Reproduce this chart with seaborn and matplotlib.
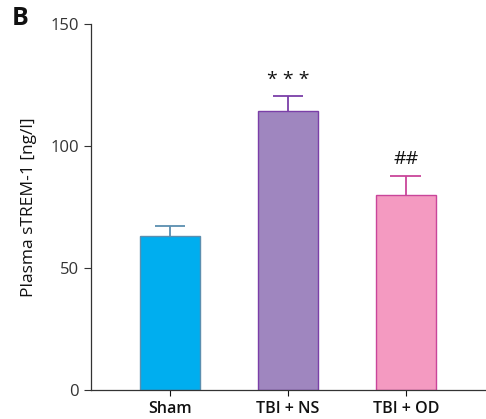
import pandas as pd
import matplotlib
matplotlib.use('Agg')
import matplotlib.pyplot as plt
import seaborn as sns

# 数据
groups = ['Sham', 'TBI + NS', 'TBI + OD']
means = [63.2, 114.3, 79.8]
errs = [4.0, 6.2, 8.0]
marks = ['', '* * *', '##']
fills = ['#00aeef', '#9f86bf', '#f49ac1']
edges = ['#5b8fb0', '#7b3fa8', '#c9459a']

sns.set_style('ticks')
plt.rcParams['font.family'] = ['Open Sans', 'DejaVu Sans']

df = pd.DataFrame({'group': groups, 'value': means})

fig = plt.figure(figsize=(4.86, 4.19), dpi=100)
ax = fig.add_axes([0.187, 0.069, 0.813, 0.874])

sns.barplot(data=df, x='group', y='value', hue='group', palette=fills,
            saturation=1, width=0.51, legend=False, ax=ax, errorbar=None)
for patch, ec in zip(ax.patches, edges):
    patch.set_edgecolor(ec)
    patch.set_linewidth(1.0)

# 只画向上的误差线
for i, (m, e, ec, t) in enumerate(zip(means, errs, edges, marks)):
    ax.vlines(i, m, m + e, color=ec, lw=1.3, zorder=1)
    ax.hlines(m + e, i - 0.13, i + 0.13, color=ec, lw=1.3, zorder=1)
    if t:
        ax.text(i, m + e + 3, t, ha='center', va='bottom', fontsize=14, color='#111111')

ax.set_ylim(0, 150)
ax.set_yticks([0, 50, 100, 150])
ax.set_xlim(-0.67, 2.68)
ax.set_xlabel('')
ax.set_ylabel('Plasma sTREM-1 [ng/l]', fontsize=12.5, color='#111111', labelpad=10,
              fontweight='medium')
ax.tick_params(axis='y', labelsize=12, colors='#333333', length=5, width=0.8)
ax.tick_params(axis='x', labelsize=11.5, colors='#111111', length=4, width=0.8)
for lbl in ax.get_xticklabels():
    lbl.set_fontweight('semibold')
sns.despine(ax=ax)
for s in ['left', 'bottom']:
    ax.spines[s].set_color('#333333')
    ax.spines[s].set_linewidth(0.9)

fig.text(0.025, 0.955, 'B', fontsize=18, fontweight='bold', va='center', color='#111111')

fig.savefig('out.png', dpi=100)
